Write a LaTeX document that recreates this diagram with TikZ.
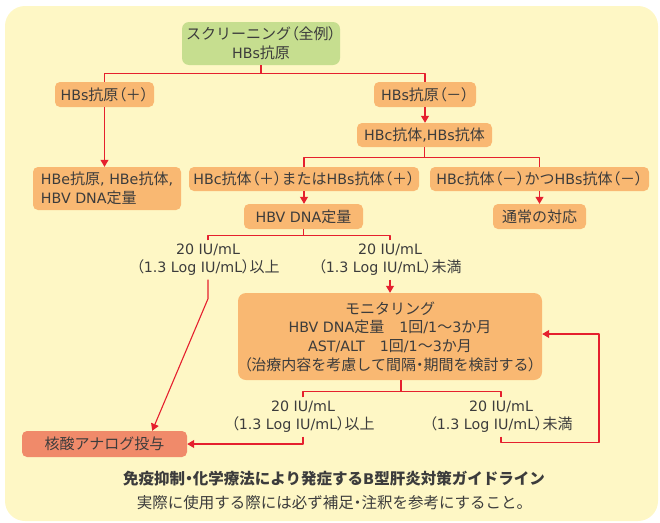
\documentclass[tikz,border=0pt]{standalone}
\usepackage{fontspec}
\setmainfont{DejaVu Sans}[Scale=0.95]
\newfontfamily\jpfont{Noto Sans CJK JP}
\newfontfamily\jppfont{Noto Sans CJK JP}[RawFeature=+palt]
\usetikzlibrary{arrows.meta}
% Lớp ký tự Nhật
\newXeTeXintercharclass\jpclass
\newXeTeXintercharclass\jppclass
\newcount\cc
\cc="3000 \loop \XeTeXcharclass\cc=\jpclass \advance\cc by 1 \ifnum\cc<"3100 \repeat
\cc="4E00 \loop \XeTeXcharclass\cc=\jpclass \advance\cc by 1 \ifnum\cc<"A000 \repeat
\cc="FF00 \loop \XeTeXcharclass\cc=\jpclass \advance\cc by 1 \ifnum\cc<"FFF0 \repeat
\XeTeXcharclass"FF08=\jppclass \XeTeXcharclass"FF09=\jppclass \XeTeXcharclass"30FB=\jppclass
\XeTeXinterchartoks 0 \jpclass = {\begingroup\jpfont}
\XeTeXinterchartoks 4095 \jpclass = {\begingroup\jpfont}
\XeTeXinterchartoks \jpclass 0 = {\endgroup}
\XeTeXinterchartoks \jpclass 4095 = {\endgroup}
\XeTeXinterchartoks 0 \jppclass = {\begingroup\jppfont}
\XeTeXinterchartoks 4095 \jppclass = {\begingroup\jppfont}
\XeTeXinterchartoks \jppclass 0 = {\endgroup}
\XeTeXinterchartoks \jppclass 4095 = {\endgroup}
\XeTeXinterchartoks \jpclass \jppclass = {\endgroup\begingroup\jppfont}
\XeTeXinterchartoks \jppclass \jpclass = {\endgroup\begingroup\jpfont}
\definecolor{bgyellow}{HTML}{FEF7C5}
\definecolor{boxorange}{HTML}{F9B872}
\definecolor{boxgreen}{HTML}{C6DE8F}
\definecolor{boxred}{HTML}{F08A6A}
\definecolor{linered}{HTML}{E5202E}
\definecolor{ink}{HTML}{3C3C3C}
\tikzset{
	box/.style={fill=boxorange, rounded corners=5pt, inner sep=0pt, text=ink, align=center, minimum height=25pt, font=\fontsize{15}{18.7}\selectfont},
	conn/.style={draw=linered, line width=1.1pt},
	lbl/.style={text=ink, align=center, inner sep=0pt, minimum height=39pt, font=\fontsize{15}{18}\selectfont}
}
\begin{document}
\XeTeXinterchartokenstate=1
\begin{tikzpicture}[x=1pt, y=-1pt, >={Triangle[width=8pt,length=7pt]}, line join=round]
		\useasboundingbox (0,0) rectangle (660,522);
		\fill[bgyellow, rounded corners=20pt] (5,6) rectangle (658,521);
		% Hộp
		\node[box, fill=boxgreen, rounded corners=7pt, minimum width=158pt, minimum height=43pt] (scr) at (261,43.5) {スクリーニング（全例）\\HBs抗原};
		\node[box, minimum width=99pt] (hbsp) at (104.5,94.5) {HBs抗原（＋）};
		\node[box, minimum width=102pt] (hbsn) at (425,94.5) {HBs抗原（－）};
		\node[box, minimum width=135pt, minimum height=24pt] (hbc) at (424.5,135) {HBc抗体,HBs抗体};
		\node[box, minimum width=148pt, minimum height=43pt, align=left] (hbe) at (107,188.5) {HBe抗原, HBe抗体,\\HBV DNA定量};
		\node[box, minimum width=230pt, minimum height=24pt] (pos) at (304,179) {HBc抗体（＋）またはHBs抗体（＋）};
		\node[box, minimum width=219pt, minimum height=24pt] (neg) at (539.5,179) {HBc抗体（－）かつHBs抗体（－）};
		\node[box, minimum width=119pt] (dna) at (303.5,216.5) {HBV DNA定量};
		\node[box, minimum width=93pt] (usual) at (539.5,216.5) {通常の対応};
		\node[box, minimum width=304pt, minimum height=87pt, rounded corners=8pt] (mon) at (390,336.5) {モニタリング\\HBV DNA定量　1回/1～3か月\\AST/ALT　1回/1～3か月\\（治療内容を考慮して間隔・期間を検討する）};
		\node[box, fill=boxred, minimum width=165pt, minimum height=26pt] (nuc) at (104.5,444) {核酸アナログ投与};
		\foreach \n/\x/\y/\t in {lblA/208/260/以上, lblB/390/260/未満, lblC/303/417/以上, lblD/501/417/未満}
		\node[lbl] (\n) at (\x,\y) {20 IU/mL\\（1.3 Log IU/mL）\t};
		% Đường nối
		\draw[conn] (scr.south) -- ++(0,8) coordinate (j1);
		\draw[conn] (hbsp.north) |- (j1) -| (hbsn.north);
		\draw[conn,->] (hbsp.south) -- (hbsp.south |- hbe.north);
		\draw[conn,->] (hbsn.south) -- (hbsn.south |- hbc.north);
		\draw[conn] (hbc.south) -- ++(0,10) coordinate (j2);
		\draw[conn] (pos.north) |- (j2) -| (neg.north);
		\draw[conn,->] (pos.south) -- (pos.south |- dna.north);
		\draw[conn,->] (neg.south) -- (usual.north);
		\draw[conn] (dna.south) -- ++(0,6) coordinate (j3);
		\draw[conn] (lblA.north) |- (j3) -| (lblB.north);
		\draw[conn,->] (lblA.south) -- ++(0,19) -- ([xshift=-35pt]nuc.north east);
		\draw[conn,->] (lblB.south) -- (lblB.south |- mon.north);
		\draw[conn] ([xshift=11pt]mon.south) -- ++(0,11) coordinate (j4);
		\draw[conn] (lblC.north) |- (j4) -| (lblD.north);
		\draw[conn,->] (lblC.south) |- (nuc.east);
		\draw[conn,->] (lblD.south) |- ++(98,6) |- ([yshift=2.5pt]mon.east);
		% Chú thích
		\node[text=ink, font=\fontsize{15.5}{18}\selectfont\bfseries] (ttl) at (334,479) {免疫抑制・化学療法により発症するB型肝炎対策ガイドライン};
		\node[text=ink, font=\fontsize{15.5}{18}\selectfont] (note) at (334.5,503) {実際に使用する際には必ず補足・注釈を参考にすること。};
\end{tikzpicture}
\end{document}
